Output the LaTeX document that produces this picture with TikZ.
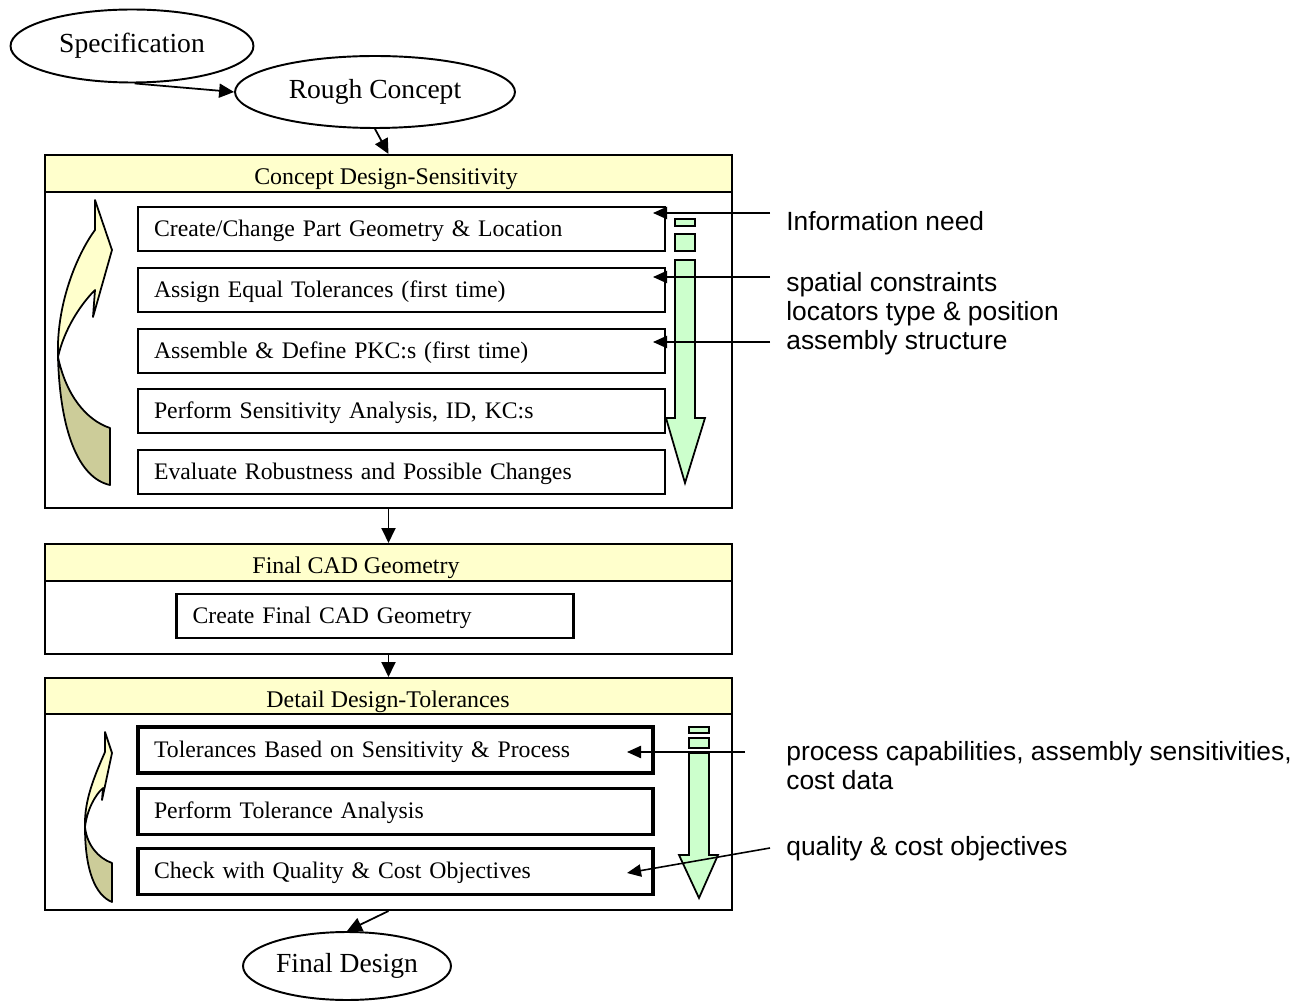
\documentclass[tikz,border=0pt]{standalone}
\usepackage{fontspec}
\setmainfont{Liberation Serif}
\newfontfamily\labelfont{Liberation Sans}
\usetikzlibrary{arrows.meta, shapes.geometric, calc}

\definecolor{headyellow}{HTML}{FFFFCC}
\definecolor{flowgreen}{HTML}{CCFFCC}
\definecolor{backolive}{HTML}{CCCC99}

\tikzset{
  oval/.style={draw, ellipse, line width=1.1pt, inner sep=0pt, font=\fontsize{15.7}{18}\selectfont},
  stagebox/.style={draw, line width=1.2pt, fill=white, inner sep=0pt, minimum width=13.74cm},
  headband/.style={draw, line width=1.2pt, fill=headyellow, inner sep=0pt, minimum width=13.74cm},
  stagetitle/.style={anchor=base, inner sep=0pt, font=\fontsize{13.6}{16}\selectfont},
  taskbox/.style={draw, line width=1.3pt, fill=white, minimum height=0.88cm, text width=9.9cm,
    text height=9pt, text depth=1pt,
    inner xsep=0.32cm, inner ysep=0pt, align=left, font=\fontsize{13.5}{16}\selectfont},
  boldtask/.style={taskbox, line width=2pt, minimum height=0.92cm, text width=9.66cm},
  flow/.style={-{Triangle[length=8.5pt,width=8pt]}, line width=1pt},
  info/.style={-{Triangle[length=8pt,width=7pt]}, line width=0.9pt},
  infolabel/.style={anchor=west, align=left, inner sep=0pt, font=\labelfont\fontsize{15}{16.5}\selectfont},
  loopfront/.style={fill=headyellow, line width=1pt, line join=round},
  loopback/.style={fill=backolive, line width=1pt, line join=round},
  downflow/.style={fill=flowgreen, line width=1pt},
}

\begin{document}
\begin{tikzpicture}[x=0.02cm, y=-0.02cm]
  \useasboundingbox (0,0) rectangle (1312,1003);

  % start and end
  \node[oval, minimum width=4.86cm, minimum height=1.46cm] (spec) at (132,46) {Specification};
  \node[oval, minimum width=5.6cm, minimum height=1.44cm] (rough) at (375,92) {Rough Concept};
  \node[oval, minimum width=4.16cm, minimum height=1.36cm] (final) at (347,966) {Final Design};

  % stage 1
  \node[stagebox, minimum height=7.06cm] (concept) at (388.5,331.5) {};
  \node[headband, minimum height=0.74cm] (concepthead) at (388.5,173.5) {};
  \node[stagetitle] (concepttitle) at (386,185) {Concept Design-Sensitivity};
  \node[taskbox] (c1) at (401.5,229) {Create/Change Part Geometry \& Location};
  \node[taskbox] (c2) at (401.5,290) {Assign Equal Tolerances (first time)};
  \node[taskbox] (c3) at (401.5,351) {Assemble \& Define PKC:s (first time)};
  \node[taskbox] (c4) at (401.5,411) {Perform Sensitivity Analysis, ID, KC:s};
  \node[taskbox] (c5) at (401.5,472) {Evaluate Robustness and Possible Changes};

  % stage 2
  \node[stagebox, minimum height=2.2cm] (cad) at (388.5,599) {};
  \node[headband, minimum height=0.74cm] (cadhead) at (388.5,562.5) {};
  \node[stagetitle] (cadtitle) at (356,573) {Final CAD Geometry};
  \node[taskbox, text width=7.3cm] (g1) at (375,616) {Create Final CAD Geometry};

  % stage 3
  \node[stagebox, minimum height=4.64cm] (detail) at (388.5,794) {};
  \node[headband, minimum height=0.72cm] (detailhead) at (388.5,696) {};
  \node[stagetitle] (detailtitle) at (388,707) {Detail Design-Tolerances};
  \node[boldtask] (d1) at (395.5,750) {Tolerances Based on Sensitivity \& Process};
  \node[boldtask] (d2) at (395.5,811.5) {Perform Tolerance Analysis};
  \node[boldtask] (d3) at (395.5,871.5) {Check with Quality \& Cost Objectives};

  % iteration loops
  \draw[loopback] (58,357) .. controls (60,430) and (78,478) .. (110,485) -- (110,428)
    .. controls (86,420) and (66,395) .. (58,357) -- cycle;
  \draw[loopfront] (58,357) .. controls (56,300) and (80,250) .. (95,230) -- (95,200) -- (112,250)
    -- (93,317) -- (95,290) .. controls (80,305) and (64,330) .. (58,357) -- cycle;
  \draw[loopback] (85,827) .. controls (85,870) and (95,895) .. (112,902) -- (112,863)
    .. controls (98,858) and (87,845) .. (85,827) -- cycle;
  \draw[loopfront] (85,827) .. controls (84,800) and (95,775) .. (105,752) -- (105,732) -- (112,753)
    -- (102,800) -- (103,788) .. controls (95,795) and (87,810) .. (85,827) -- cycle;

  % downward flow markers
  \filldraw[downflow] (675,219) rectangle (695,226);
  \filldraw[downflow] (675,234) rectangle (695,251);
  \filldraw[downflow] (675,260) -- (695,260) -- (695,418) -- (705,418) -- (685,483)
    -- (666,418) -- (675,418) -- cycle;
  \filldraw[downflow] (689,727) rectangle (709,733);
  \filldraw[downflow] (689,738) rectangle (709,748);
  \filldraw[downflow] (689,753) -- (709,753) -- (709,855) -- (718,855) -- (699,898)
    -- (679,855) -- (689,855) -- cycle;

  % main flow
  \draw[flow] (spec.-86) -- (rough.west);
  \draw[flow] (rough.south) -- (concepthead.north);
  \draw[flow] (concept.south) -- (cadhead.north);
  \draw[flow] (cad.south) -- (detailhead.north);
  \draw[flow] (detail.south) -- (final.north);

  % inputs
  \coordinate (in1) at (770,213);  \coordinate (to1) at (653,213);
  \coordinate (in2) at (770,277);  \coordinate (to2) at (653,277);
  \coordinate (in3) at (770,342);  \coordinate (to3) at (653,342);
  \coordinate (in4) at (745,752);  \coordinate (to4) at (627,752);
  \coordinate (in5) at (770,848);  \coordinate (to5) at (627,873);
  \foreach \i in {1,...,5}
    \draw[info] (in\i) -- (to\i);

  \node[infolabel] (need) at (786,221) {Information need};
  \node[infolabel] (geom) at (786,314) {spatial constraints\\locators type \& position\\assembly structure};
  \node[infolabel] (proc) at (786,766) {process capabilities, assembly sensitivities,\\cost data};
  \node[infolabel] (goal) at (786,849) {quality \& cost objectives};
\end{tikzpicture}
\end{document}
